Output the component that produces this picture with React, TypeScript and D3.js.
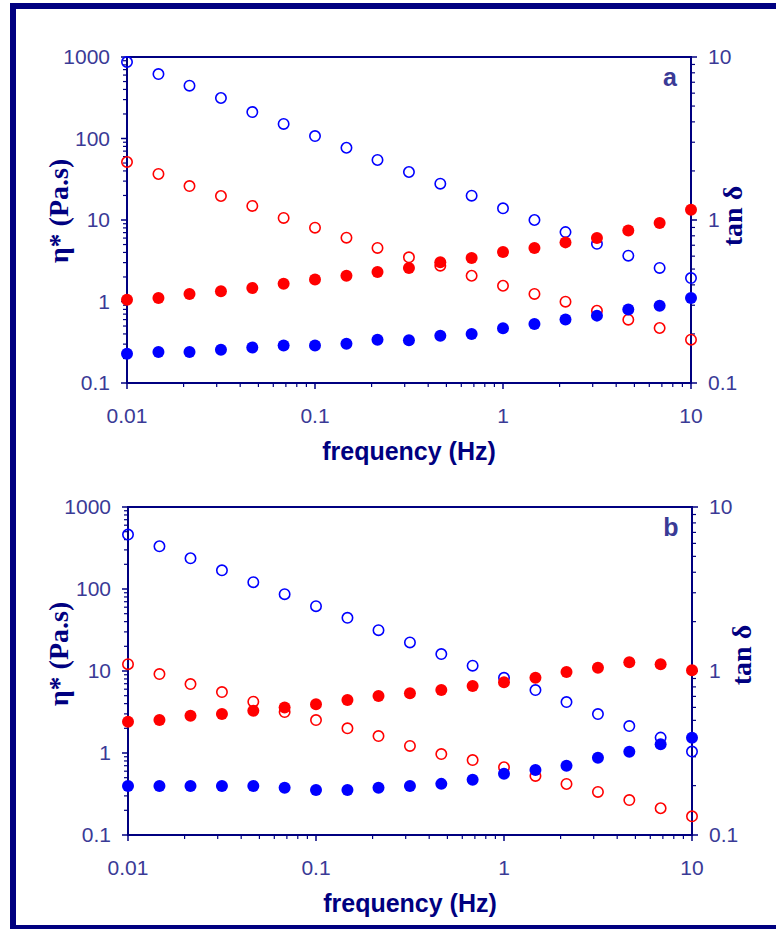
import React from "react";
import * as d3 from "d3";

// frequency points (Hz), 6 per decade
const freq = [
  0.01, 0.0147, 0.0215, 0.0316, 0.0464, 0.0681, 0.1, 0.147, 0.215, 0.316,
  0.464, 0.681, 1, 1.47, 2.15, 3.16, 4.64, 6.81, 10,
];

// panel a
const etaBlueA = [868, 618, 445, 314, 211, 151, 107, 77, 54.5, 38.8, 27.9, 19.9, 13.9, 10, 7.1, 5.1, 3.65, 2.58, 1.94];
const etaRedA = [51.5, 36.7, 26.1, 19.7, 14.9, 10.6, 8.05, 6.07, 4.54, 3.48, 2.75, 2.07, 1.56, 1.24, 0.995, 0.77, 0.598, 0.473, 0.34];
const tanRedA = [0.324, 0.332, 0.351, 0.365, 0.383, 0.407, 0.431, 0.455, 0.48, 0.508, 0.55, 0.585, 0.637, 0.673, 0.729, 0.776, 0.863, 0.959, 1.156];
const tanBlueA = [0.151, 0.155, 0.155, 0.16, 0.165, 0.17, 0.17, 0.174, 0.184, 0.183, 0.195, 0.2, 0.217, 0.23, 0.245, 0.259, 0.282, 0.298, 0.332];

// panel b
const etaBlueB = [461, 332, 237, 169, 121, 86.4, 61.7, 44.5, 31.5, 22.3, 16.1, 11.6, 8.26, 5.85, 4.18, 2.98, 2.13, 1.54, 1.04];
const etaRedB = [12.1, 9.17, 6.92, 5.53, 4.22, 3.16, 2.52, 2.0, 1.61, 1.22, 0.97, 0.82, 0.67, 0.525, 0.419, 0.335, 0.267, 0.212, 0.169];
const tanRedB = [0.491, 0.502, 0.534, 0.546, 0.573, 0.6, 0.626, 0.665, 0.703, 0.731, 0.766, 0.81, 0.853, 0.91, 0.985, 1.045, 1.13, 1.1, 1.01];
const tanBlueB = [0.199, 0.199, 0.199, 0.199, 0.199, 0.194, 0.188, 0.188, 0.194, 0.199, 0.205, 0.217, 0.236, 0.249, 0.264, 0.296, 0.322, 0.357, 0.392];

const xTicks = [0.01, 0.1, 1, 10];
const etaTicks = [0.1, 1, 10, 100, 1000];
const tanTicks = [0.1, 1, 10];

const NAVY = "#000080";
const LABEL = "#3a3a96";
const SANS = "Arial, 'Liberation Sans', sans-serif";
const SERIF = "'Times New Roman', 'Liberation Serif', serif";

const fmt = (v: number) => (v < 1 ? String(v) : d3.format("d")(v));

type PanelProps = {
  top: number;
  bottom: number;
  left: number;
  right: number;
  tag: string;
  etaPos: [number, number];
  tanPos: [number, number];
  etaBlue: number[];
  etaRed: number[];
  tanRed: number[];
  tanBlue: number[];
};

const Panel = ({ top, bottom, left, right, tag, etaPos, tanPos, etaBlue, etaRed, tanRed, tanBlue }: PanelProps) => {
  const x = d3.scaleLog().domain([0.01, 10]).range([left, right]);
  const yL = d3.scaleLog().domain([0.1, 1000]).range([bottom, top]);
  const yR = d3.scaleLog().domain([0.1, 10]).range([bottom, top]);

  const minor = (s: d3.ScaleLogarithmic<number, number>) =>
    s.ticks().filter((t) => Math.abs(Math.log10(t) - Math.round(Math.log10(t))) > 1e-6);

  const open = (vals: number[], color: string) =>
    vals.map((v, i) => (
      <circle key={color + "o" + i} cx={x(freq[i])} cy={yL(v)} r={5.2} fill="none" stroke={color} strokeWidth={1.6} />
    ));
  const filled = (vals: number[], color: string) =>
    vals.map((v, i) => <circle key={color + "f" + i} cx={x(freq[i])} cy={yR(v)} r={6} fill={color} />);

  const cx = (left + right) / 2;

  return (
    <g>
      <rect x={left} y={top} width={right - left} height={bottom - top} fill="none" stroke={NAVY} strokeWidth={2} />
      {/* left axis ticks */}
      {etaTicks.map((t) => (
        <line key={"lm" + t} x1={left - 6} x2={left} y1={yL(t)} y2={yL(t)} stroke={NAVY} strokeWidth={1.5} />
      ))}
      {minor(yL).map((t, i) => (
        <line key={"ln" + i} x1={left - 4} x2={left} y1={yL(t)} y2={yL(t)} stroke={NAVY} strokeWidth={1.2} />
      ))}
      {/* right axis ticks */}
      {tanTicks.map((t) => (
        <line key={"rm" + t} x1={right} x2={right + 6} y1={yR(t)} y2={yR(t)} stroke={NAVY} strokeWidth={1.5} />
      ))}
      {minor(yR).map((t, i) => (
        <line key={"rn" + i} x1={right} x2={right + 4} y1={yR(t)} y2={yR(t)} stroke={NAVY} strokeWidth={1.2} />
      ))}
      {/* bottom ticks */}
      {xTicks.map((t) => (
        <line key={"bm" + t} x1={x(t)} x2={x(t)} y1={bottom} y2={bottom + 6} stroke={NAVY} strokeWidth={1.5} />
      ))}
      {minor(x).map((t, i) => (
        <line key={"bn" + i} x1={x(t)} x2={x(t)} y1={bottom} y2={bottom + 4} stroke={NAVY} strokeWidth={1.2} />
      ))}

      {etaTicks.map((t) => (
        <text key={"ll" + t} x={left - 17} y={yL(t)} dy="0.35em" textAnchor="end" fontFamily={SANS} fontSize={21} fill={LABEL}>
          {fmt(t)}
        </text>
      ))}
      {tanTicks.map((t) => (
        <text key={"rl" + t} x={right + 17} y={yR(t)} dy="0.35em" textAnchor="start" fontFamily={SANS} fontSize={21} fill={LABEL}>
          {fmt(t)}
        </text>
      ))}
      {xTicks.map((t) => (
        <text key={"xl" + t} x={x(t)} y={bottom + 40} textAnchor="middle" fontFamily={SANS} fontSize={21} fill={LABEL}>
          {fmt(t)}
        </text>
      ))}

      <text x={cx} y={bottom + 77} textAnchor="middle" fontFamily={SANS} fontWeight="bold" fontSize={25} fill={NAVY}>
        frequency (Hz)
      </text>
      <text
        transform={`translate(${etaPos[0]},${etaPos[1]}) rotate(-90)`}
        textAnchor="middle"
        dy="0.35em"
        fontFamily={SERIF}
        fontWeight="bold"
        fontSize={28}
        fill={NAVY}
      >
        η* (Pa.s)
      </text>
      <text
        transform={`translate(${tanPos[0]},${tanPos[1]}) rotate(-90)`}
        textAnchor="middle"
        dy="0.35em"
        fontFamily={SERIF}
        fontWeight="bold"
        fontSize={28}
        fill={NAVY}
      >
        tan δ
      </text>
      <text x={right - 21} y={top + 29} textAnchor="middle" fontFamily={SANS} fontWeight="bold" fontSize={25} fill={LABEL}>
        {tag}
      </text>

      {open(etaBlue, "#0000ff")}
      {open(etaRed, "#ff0000")}
      {filled(tanRed, "#ff0000")}
      {filled(tanBlue, "#0000ff")}
    </g>
  );
};

export default function App() {
  return (
    <svg width={776} height={929} style={{ position: "absolute", left: 0, top: 0, background: "#fff" }}>
      <rect x={0} y={0} width={776} height={929} fill="#fff" />
      <rect x={13} y={6} width={800} height={922} fill="none" stroke={NAVY} strokeWidth={6} />
      <Panel
        top={57}
        bottom={383}
        left={127}
        right={691}
        tag="a"
        etaPos={[58, 211]}
        tanPos={[732, 216]}
        etaBlue={etaBlueA}
        etaRed={etaRedA}
        tanRed={tanRedA}
        tanBlue={tanBlueA}
      />
      <Panel
        top={507}
        bottom={835}
        left={128}
        right={692}
        tag="b"
        etaPos={[58, 654]}
        tanPos={[741, 655]}
        etaBlue={etaBlueB}
        etaRed={etaRedB}
        tanRed={tanRedB}
        tanBlue={tanBlueB}
      />
    </svg>
  );
}
